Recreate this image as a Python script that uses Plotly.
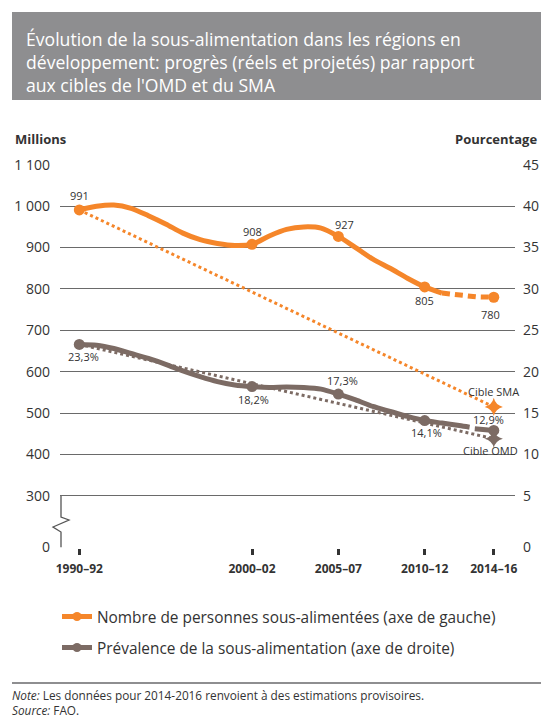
import plotly.graph_objects as go

# ---------------- data ----------------
period_years = [1990, 2000, 2005, 2010, 2014]
period_labels = ["1990–92", "2000–02", "2005–07", "2010–12", "2014–16"]

undernourished = [991, 908, 927, 805, 780]          # millions (left axis)
prevalence = [23.3, 18.2, 17.3, 14.1, 12.9]          # percent (right axis)

# curve (solid part)
num_curve_years = [1990, 1991, 1992, 1993, 1994, 1995, 1996, 1997, 1998, 1999,
                   2000, 2001, 2002, 2003, 2004, 2005, 2006, 2007, 2008, 2009,
                   2010, 2011]
num_curve_vals = [991, 1000, 1003, 995, 977, 957, 935, 919, 910, 905,
                  908, 928, 944, 950, 947, 927, 900, 872, 850, 826,
                  805, 790]
num_proj_years = [2011, 2012, 2013, 2014]
num_proj_vals = [790, 784, 781, 780]

prev_curve_years = [1990, 1991, 1992, 1993, 1994, 1995, 1996, 1997, 1998, 1999,
                    2000, 2001, 2002, 2003, 2004, 2005, 2006, 2007, 2008, 2009,
                    2010, 2011, 2012, 2012.6]
prev_curve_vals = [23.3, 23.2, 22.8, 22.2, 21.6, 20.9, 20.1, 19.4, 18.8, 18.4,
                   18.2, 18.1, 18.15, 18.1, 17.9, 17.3, 16.6, 15.8, 15.2, 14.6,
                   14.1, 13.8, 13.5, 13.3]
prev_proj_years = [2012.9, 2014]
prev_proj_vals = [13.1, 12.9]

# targets
sma_target_years = [1990, 2014]
sma_target_vals = [991, 515]        # WFS target (millions)
omd_target_years = [1990, 2014]
omd_target_vals = [23.3, 11.9]      # MDG target (percent)

left_ticks = [300, 400, 500, 600, 700, 800, 900, 1000, 1100]
left_tick_text = ["300", "400", "500", "600", "700", "800", "900", "1 000", "1 100"]
right_ticks = [5, 10, 15, 20, 25, 30, 35, 40, 45]

ORANGE = "#F5862A"
BROWN = "#7C6B64"
TXT = "#333333"
FONT = "Open Sans"

# ---------------- geometry ----------------
W, H = 541, 719
L, R, T, B = 60, 515, 164, 548
Y0, Y1 = 174, 1102          # left axis range (broken axis: "0" drawn at 176)
ZERO_LEFT = 176
# right axis: pct = (left - 200) / 20
def l2r(v):
    return (v - 200) / 20.0
X0 = 1990 - (79.3 - L) / 17.27
X1 = 1990 + (R - 79.3) / 17.27

def px(xp):
    return (xp - L) / (R - L)

def py(yp):
    return (B - yp) / (B - T)

ppu = (B - T) / (Y1 - Y0)
def ypix2left(yp):
    return Y1 - (yp - T) / ppu

fig = go.Figure()

# targets (dotted)
fig.add_trace(go.Scatter(x=sma_target_years, y=sma_target_vals, mode="lines",
                         line=dict(color=ORANGE, width=3, dash="dot"),
                         showlegend=False, hoverinfo="skip"))
fig.add_trace(go.Scatter(x=omd_target_years, y=omd_target_vals, yaxis="y2", mode="lines",
                         line=dict(color=BROWN, width=3, dash="dot"),
                         showlegend=False, hoverinfo="skip"))

# prevalence curve
fig.add_trace(go.Scatter(x=prev_curve_years, y=prev_curve_vals, yaxis="y2", mode="lines",
                         line=dict(color=BROWN, width=5, shape="spline", smoothing=0.8),
                         showlegend=False, hoverinfo="skip"))
fig.add_trace(go.Scatter(x=prev_proj_years, y=prev_proj_vals, yaxis="y2", mode="lines",
                         line=dict(color=BROWN, width=5),
                         showlegend=False, hoverinfo="skip"))
fig.add_trace(go.Scatter(x=period_years, y=prevalence, yaxis="y2", mode="markers",
                         marker=dict(color=BROWN, size=11),
                         showlegend=False))

# number curve
fig.add_trace(go.Scatter(x=num_curve_years, y=num_curve_vals, mode="lines",
                         line=dict(color=ORANGE, width=5, shape="spline", smoothing=0.8),
                         showlegend=False, hoverinfo="skip"))
fig.add_trace(go.Scatter(x=num_proj_years, y=num_proj_vals, mode="lines",
                         line=dict(color=ORANGE, width=5, dash="8px,5px"),
                         showlegend=False, hoverinfo="skip"))
fig.add_trace(go.Scatter(x=period_years, y=undernourished, mode="markers",
                         marker=dict(color=ORANGE, size=11),
                         showlegend=False))

# target stars
fig.add_trace(go.Scatter(x=[sma_target_years[-1]], y=[sma_target_vals[-1]], mode="markers",
                         marker=dict(color=ORANGE, size=13, symbol="star-diamond"),
                         showlegend=False))
fig.add_trace(go.Scatter(x=[omd_target_years[-1]], y=[omd_target_vals[-1]], yaxis="y2",
                         mode="markers",
                         marker=dict(color=BROWN, size=13, symbol="star-diamond"),
                         showlegend=False))

# legend entries
fig.add_trace(go.Scatter(x=[None], y=[None], mode="lines+markers",
                         line=dict(color=ORANGE, width=5), marker=dict(color=ORANGE, size=9),
                         name="Nombre de personnes sous-alimentées (axe de gauche)",
                         legend="legend"))
fig.add_trace(go.Scatter(x=[None], y=[None], mode="lines+markers",
                         line=dict(color=BROWN, width=5), marker=dict(color=BROWN, size=9),
                         name="Prévalence de la sous-alimentation (axe de droite)",
                         legend="legend2"))

# ---------------- annotations ----------------
ann = []
lab_font = dict(family=FONT, size=11, color=TXT)

num_shifts = [(0, 14), (0, 13), (6, 12), (0, -14), (-3, -17)]
for xv, v, (dx, dy) in zip(period_years, undernourished, num_shifts):
    ann.append(dict(x=xv, y=v, xref="x", yref="y", text=f"{v}", showarrow=False,
                    xshift=dx, yshift=dy, font=lab_font))
prev_shifts = [(4, -12), (1, -13), (4, 14), (2, -12), (-5, 11)]
for xv, v, (dx, dy) in zip(period_years, prevalence, prev_shifts):
    ann.append(dict(x=xv, y=v, xref="x", yref="y2",
                    text=f"{v:.1f}%".replace(".", ","), showarrow=False,
                    xshift=dx, yshift=dy, font=lab_font))
ann.append(dict(x=sma_target_years[-1], y=sma_target_vals[-1], xref="x", yref="y",
                text="Cible SMA", showarrow=False, xshift=0, yshift=15, font=lab_font))
ann.append(dict(x=omd_target_years[-1], y=omd_target_vals[-1], xref="x", yref="y2",
                text="Cible OMD", showarrow=False, xshift=-3, yshift=-12, font=lab_font))

# title
ann.append(dict(x=px(24), y=py(25), xref="paper", yref="paper", xanchor="left", yanchor="top",
                align="left", showarrow=False,
                text="Évolution de la sous-alimentation dans les régions en<br>"
                     "développement: progrès (réels et projetés) par rapport<br>"
                     "aux cibles de l'OMD et du SMA",
                font=dict(family=FONT, size=17.6, color="white")))
# axis titles
ann.append(dict(x=px(13), y=py(139), xref="paper", yref="paper", xanchor="left", yanchor="middle",
                showarrow=False, text="<b>Millions</b>", font=dict(family=FONT, size=13, color=TXT)))
ann.append(dict(x=px(539), y=py(139), xref="paper", yref="paper", xanchor="right", yanchor="middle",
                showarrow=False, text="<b>Pourcentage</b>", font=dict(family=FONT, size=13, color=TXT)))
# footnote (two lines in one block)
ann.append(dict(x=px(11), y=py(686), xref="paper", yref="paper", xanchor="left", yanchor="top",
                align="left", showarrow=False, borderpad=0,
                text="<i>Note:</i> Les données pour 2014-2016 renvoient à des estimations provisoires."
                     "<br><i>Source:</i> FAO.",
                font=dict(family=FONT, size=11.8, color=TXT)))

# ---------------- shapes ----------------
shapes = [
    dict(type="rect", xref="paper", yref="paper", x0=px(12), x1=px(541), y0=py(100), y1=py(12),
         fillcolor="#8E8E90", line=dict(width=0), layer="below"),
    dict(type="line", xref="paper", yref="paper", x0=px(12), x1=px(541), y0=py(683), y1=py(683),
         line=dict(color="#8E8E90", width=2)),
]
zz = [(61, 496), (61, 517), (69, 520), (53, 527), (61, 532), (61, 547.2)]
path = "M " + " L ".join(f"{px(a)},{ypix2left(b)}" for a, b in zz)
shapes.append(dict(type="path", xref="paper", yref="y", path=path,
                   line=dict(color="#555555", width=1.3)))

fig.update_layout(
    width=W, height=H, autosize=False,
    margin=dict(l=L, r=W - R, t=T, b=H - B, pad=0, autoexpand=False),
    paper_bgcolor="white", plot_bgcolor="white",
    font=dict(family=FONT, color=TXT),
    xaxis=dict(range=[X0, X1], tickvals=period_years, ticktext=period_labels,
               tickfont=dict(family=FONT, size=12, color=TXT, weight="bold"),
               ticks="outside", ticklen=6, tickwidth=3, tickcolor="#333333",
               showgrid=False, zeroline=False, showline=False, ticklabelstandoff=4,
               automargin=False),
    yaxis=dict(range=[Y0, Y1], tickvals=[ZERO_LEFT] + left_ticks, ticktext=["0"] + left_tick_text,
               tickfont=dict(family=FONT, size=14, color=TXT),
               showgrid=True, gridcolor="#6a6a6a", gridwidth=1.2, zeroline=False,
               showline=False, ticks="", ticklabelstandoff=9, automargin=False),
    yaxis2=dict(range=[l2r(Y0), l2r(Y1)], overlaying="y", side="right",
                tickvals=[l2r(ZERO_LEFT)] + right_ticks,
                ticktext=["0"] + [str(t) for t in right_ticks],
                tickfont=dict(family=FONT, size=14, color=TXT),
                showgrid=False, zeroline=False, showline=False, ticks="", ticklabelstandoff=7,
                automargin=False),
    legend=dict(x=px(57), y=py(617), xanchor="left", yanchor="middle",
                font=dict(family=FONT, size=15.4, color=TXT), bgcolor="rgba(0,0,0,0)"),
    legend2=dict(x=px(57), y=py(648), xanchor="left", yanchor="middle",
                 font=dict(family=FONT, size=15.4, color=TXT), bgcolor="rgba(0,0,0,0)"),
    annotations=ann,
    shapes=shapes,
    showlegend=True,
)

fig.write_html("out.html", config={"displayModeBar": False})
